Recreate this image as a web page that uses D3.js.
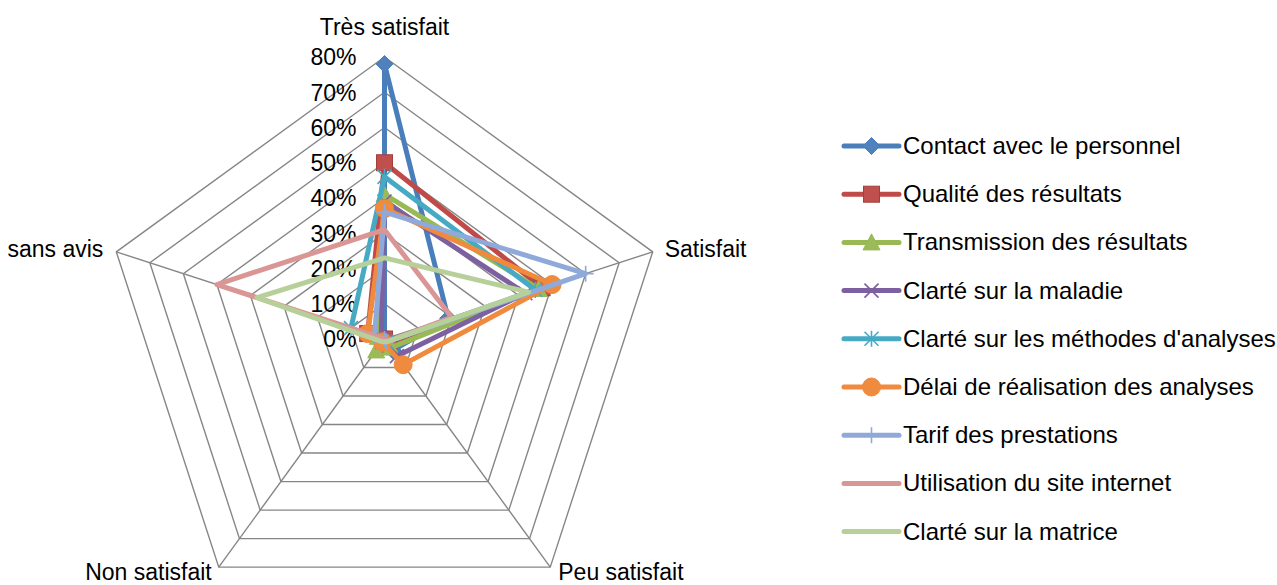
<!DOCTYPE html>
<html>
<head>
<meta charset="utf-8">
<script src="https://cdn.jsdelivr.net/npm/d3@7"></script>
<style>
  body { margin: 0; background: #fff; }
  svg text { font-family: "Liberation Sans", Arial, sans-serif; font-size: 23px; fill: #000; }
  svg text.legend { font-size: 24px; }
</style>
</head>
<body>
<div class="chart"></div>
<script>
// categories (clockwise from the top)
var axes = ["Très satisfait", "Satisfait", "Peu satisfait", "Non satisfait", "sans avis"];

// percentages per axis, same order as axes
var contact    = [78, 19, 4, 0, 0];
var qualite    = [50, 47, 2, 0, 5];
var transmis   = [41, 46, 3, 4, 2];
var maladie    = [39, 42, 6, 1, 1];
var methodes   = [46, 45, 1, 1, 10];
var delai      = [37, 50, 9, 1, 5];
var tarif      = [36, 60, 1, 0, 3];
var siteWeb    = [31, 20, 1, 0, 50];
var matrice    = [23, 43, 1, 1, 38];

var seriesNames = [
    "Contact avec le personnel",
    "Qualité des résultats",
    "Transmission des résultats",
    "Clarté sur la maladie",
    "Clarté sur les méthodes d'analyses",
    "Délai de réalisation des analyses",
    "Tarif des prestations",
    "Utilisation du site internet",
    "Clarté sur la matrice"
];
var seriesValues = [contact, qualite, transmis, maladie, methodes, delai, tarif, siteWeb, matrice];

var ticks = [0, 10, 20, 30, 40, 50, 60, 70, 80];

(function () {

    var width = 1277, height = 585;
    var cx = 384.5, cy = 339, radius = 282;

    // line colour, marker fill, marker type
    var styles = [
        { line: "#4A7EBB", fill: "#4F81BD", marker: "diamond" },
        { line: "#BE4B48", fill: "#C0504D", marker: "square" },
        { line: "#98B954", fill: "#9BBB59", marker: "triangle" },
        { line: "#7D60A0", fill: "#7D60A0", marker: "x" },
        { line: "#46AAC5", fill: "#46AAC5", marker: "asterisk" },
        { line: "#F08A3C", fill: "#EE8B3E", marker: "circle" },
        { line: "#8FAADA", fill: "#8FAADA", marker: "plus" },
        { line: "#D99694", fill: "#D99694", marker: null },
        { line: "#B7D09A", fill: "#B7D09A", marker: null }
    ];

    var r = d3.scaleLinear().domain([0, 80]).range([0, radius]);
    var angle = d3.scaleLinear().domain([0, axes.length]).range([0, 2 * Math.PI]);

    function px(i, v) { return cx + r(v) * Math.sin(angle(i)); }
    function py(i, v) { return cy - r(v) * Math.cos(angle(i)); }

    var svg = d3.select(".chart").append("svg")
        .attr("width", width)
        .attr("height", height);

    // grid rings
    var ring = d3.lineRadial()
        .angle(function (d, i) { return angle(i); })
        .radius(function (d) { return r(d); })
        .curve(d3.curveLinearClosed);

    var grid = svg.append("g").attr("transform", "translate(" + cx + "," + cy + ")");

    ticks.slice(1).forEach(function (t) {
        grid.append("path")
            .attr("d", ring(axes.map(function () { return t; })))
            .attr("fill", "none")
            .attr("stroke", "#868686")
            .attr("stroke-width", 1.4);
    });

    axes.forEach(function (a, i) {
        grid.append("line")
            .attr("x1", 0).attr("y1", 0)
            .attr("x2", px(i, 80) - cx)
            .attr("y2", py(i, 80) - cy)
            .attr("stroke", "#868686")
            .attr("stroke-width", 1.4);
    });

    // tick labels
    svg.selectAll(".tick").data(ticks).enter().append("text")
        .attr("x", cx - 28)
        .attr("y", function (d) { return cy - r(d); })
        .attr("dy", "0.36em")
        .attr("text-anchor", "end")
        .text(function (d) { return d + "%"; });

    // category labels, nudged off each outer vertex
    var labelPos = [
        { dx: 0, dy: -22, anchor: "middle" },
        { dx: 12, dy: 5, anchor: "start" },
        { dx: 8, dy: 13, anchor: "start" },
        { dx: -7, dy: 13, anchor: "end" },
        { dx: -13, dy: 5, anchor: "end" }
    ];
    axes.forEach(function (a, i) {
        svg.append("text")
            .attr("x", px(i, 80) + labelPos[i].dx)
            .attr("y", py(i, 80) + labelPos[i].dy)
            .attr("text-anchor", labelPos[i].anchor)
            .text(a);
    });

    // marker drawing, centred on x,y
    function drawMarker(g, type, x, y, st) {
        if (!type) { return; }
        var s;
        if (type === "diamond") {
            g.append("path")
                .attr("d", "M" + x + "," + (y - 8.5) + "L" + (x + 8.5) + "," + y + "L" + x + "," + (y + 8.5) + "L" + (x - 8.5) + "," + y + "Z")
                .attr("fill", st.fill).attr("stroke", st.line).attr("stroke-width", 1);
        } else if (type === "square") {
            g.append("rect")
                .attr("x", x - 8).attr("y", y - 8)
                .attr("width", 16).attr("height", 16)
                .attr("fill", st.fill).attr("stroke", "#A0403E").attr("stroke-width", 1);
        } else if (type === "triangle") {
            g.append("path")
                .attr("d", "M" + x + "," + (y - 8.5) + "L" + (x + 8.5) + "," + (y + 7.5) + "L" + (x - 8.5) + "," + (y + 7.5) + "Z")
                .attr("fill", st.fill).attr("stroke", st.line).attr("stroke-width", 1);
        } else if (type === "circle") {
            g.append("circle")
                .attr("cx", x).attr("cy", y).attr("r", 9)
                .attr("fill", st.fill).attr("stroke", st.line).attr("stroke-width", 1);
        } else {
            s = 7;
            var d = "";
            if (type === "x" || type === "asterisk") {
                d += "M" + (x - s) + "," + (y - s) + "L" + (x + s) + "," + (y + s);
                d += "M" + (x - s) + "," + (y + s) + "L" + (x + s) + "," + (y - s);
            }
            if (type === "asterisk" || type === "plus") {
                d += "M" + x + "," + (y - s - 1) + "L" + x + "," + (y + s + 1);
            }
            if (type === "plus") {
                d += "M" + (x - s - 1) + "," + y + "L" + (x + s + 1) + "," + y;
            }
            g.append("path")
                .attr("d", d)
                .attr("fill", "none")
                .attr("stroke", st.line)
                .attr("stroke-width", 1.6);
        }
    }

    // series
    var radar = d3.lineRadial()
        .angle(function (d, i) { return angle(i); })
        .radius(function (d) { return r(d); })
        .curve(d3.curveLinearClosed);

    seriesValues.forEach(function (vals, k) {
        var st = styles[k];
        var g = svg.append("g");
        g.append("path")
            .attr("transform", "translate(" + cx + "," + cy + ")")
            .attr("d", radar(vals))
            .attr("fill", "none")
            .attr("stroke", st.line)
            .attr("stroke-width", 5)
            .attr("stroke-linejoin", "round");
        vals.forEach(function (v, i) {
            drawMarker(g, st.marker, px(i, v), py(i, v), st);
        });
    });

    // legend
    var lx = 844, ly = 146, step = 48.2;
    seriesNames.forEach(function (name, k) {
        var st = styles[k];
        var y = ly + k * step;
        var g = svg.append("g");
        g.append("line")
            .attr("x1", lx).attr("y1", y)
            .attr("x2", lx + 55).attr("y2", y)
            .attr("stroke", st.line)
            .attr("stroke-width", 5)
            .attr("stroke-linecap", "round");
        drawMarker(g, st.marker, lx + 27.5, y, st);
        g.append("text")
            .attr("class", "legend")
            .attr("x", lx + 59)
            .attr("y", y + 8)
            .text(name);
    });

}());
</script>
</body>
</html>
